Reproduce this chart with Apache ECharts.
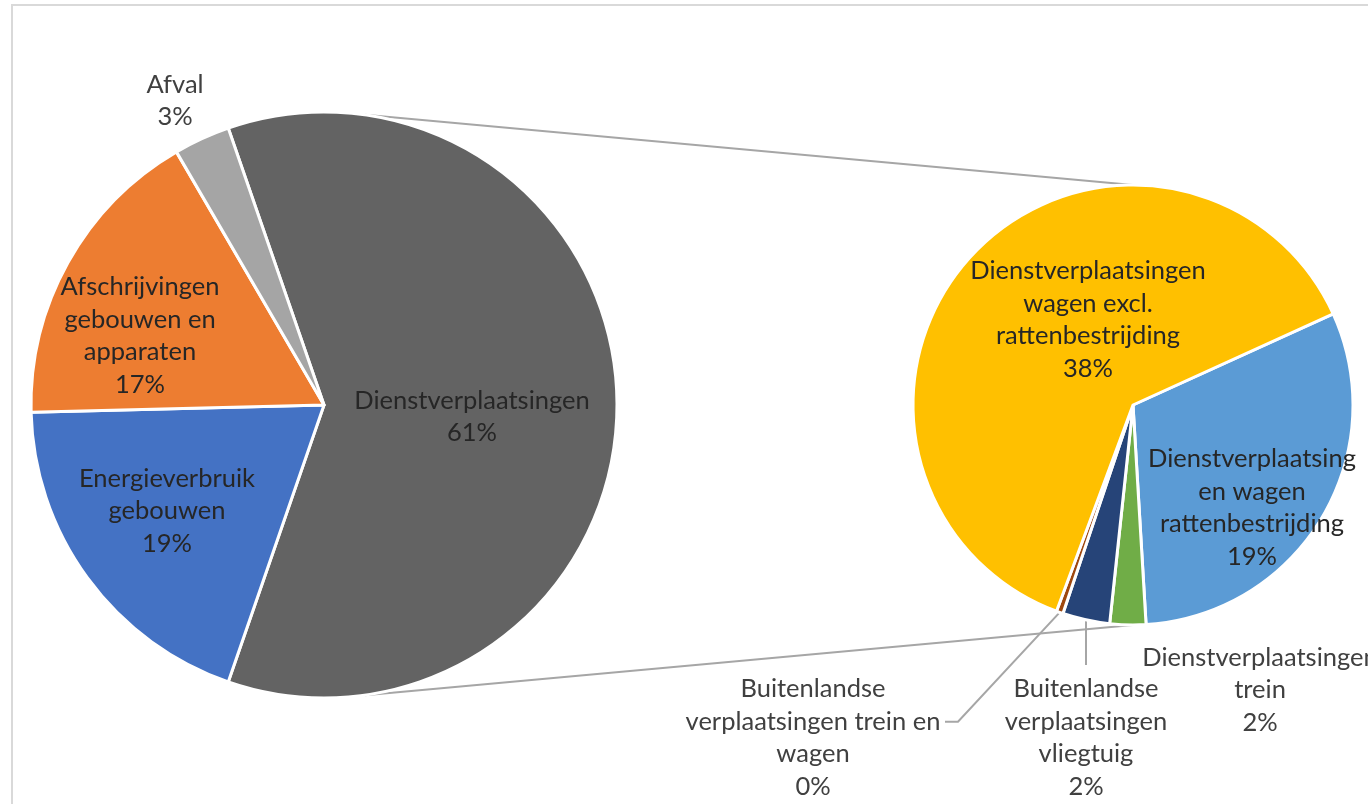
<!DOCTYPE html>
<html>
<head>
<meta charset="utf-8">
<script src="https://cdn.jsdelivr.net/npm/echarts@6/dist/echarts.min.js"></script>
<style>
html,body{margin:0;padding:0;background:#fff;}
#chart{width:1368px;height:804px;}
</style>
</head>
<body>
<div id="chart"></div>
<script>
// ---- data ----
const leftNames = ['Dienstverplaatsingen', 'Energieverbruik gebouwen', 'Afschrijvingen gebouwen en apparaten', 'Afval'];
const leftLabelText = ['Dienstverplaatsingen', 'Energieverbruik\ngebouwen', 'Afschrijvingen\ngebouwen en\napparaten', 'Afval'];
const leftValues = [60.6, 19.3, 17.0, 3.1];

const rightNames = ['Dienstverplaatsingen wagen rattenbestrijding', 'Dienstverplaatsingen trein', 'Buitenlandse verplaatsingen vliegtuig', 'Buitenlandse verplaatsingen trein en wagen', 'Dienstverplaatsingen wagen excl. rattenbestrijding'];
const rightLabelText = ['Dienstverplaatsing\nen wagen\nrattenbestrijding', 'Dienstverplaatsingen\ntrein', 'Buitenlandse\nverplaatsingen\nvliegtuig', 'Buitenlandse\nverplaatsingen trein en\nwagen', 'Dienstverplaatsingen\nwagen excl.\nrattenbestrijding'];
const rightValues = [18.7, 1.6, 2.1, 0.3, 37.9];

// ---- layout / style ----
const leftColors = ['#636363', '#4472C4', '#ED7D31', '#A5A5A5'];
const rightColors = ['#5B9BD5', '#70AD47', '#264478', '#9E480E', '#FFC000'];
const L = {cx: 324, cy: 405, r: 293};
const R = {cx: 1133, cy: 405, r: 220};
const leftLabelOffset = [[148, 12], [-157, 106], [-184, -69], [-149, -304]];
const rightLabelOffset = [[119, 103], [127, 285], [-47, 333], [-320, 333], [-45, -85]];
const rightStart = 24.5;
const FONT = 'Lato, "Noto Sans", sans-serif';
const FS = 25.5, LH = 32.5;

const leftTotal = leftValues.reduce((a, b) => a + b, 0);
const leftStart = leftValues[0] / leftTotal * 360 / 2;
const rightTotal = rightValues.reduce((a, b) => a + b, 0);

function midAngle(values, total, start, i) {
  let a = start;
  for (let k = 0; k < i; k++) a -= values[k] / total * 360;
  a -= values[i] / total * 360 / 2;
  return a * Math.PI / 180;
}
function edgePoint(P, ang, extra) {
  const rr = P.r + (extra || 0);
  return [P.cx + rr * Math.cos(ang), P.cy - rr * Math.sin(ang)];
}

const chart = echarts.init(document.getElementById('chart'), null, {renderer: 'canvas'});

const leftData = leftNames.map((n, i) => ({
  name: n, value: leftValues[i],
  itemStyle: {color: leftColors[i]},
  label: {position: i === 3 ? 'outside' : 'inside', color: i === 3 ? '#404040' : '#262626'},
  labelLine: {show: false}
}));
const rightData = rightNames.map((n, i) => ({
  name: n, value: rightValues[i],
  itemStyle: {color: rightColors[i]},
  label: {position: (i === 0 || i === 4) ? 'inside' : 'outside', color: (i === 0 || i === 4) ? '#262626' : '#404040'},
  labelLine: {show: i === 2 || i === 3, lineStyle: {color: '#A6A6A6', width: 2}, length: 10, length2: 10}
}));

// connector lines between the two pies
const topAng = 82 * Math.PI / 180;
const c1 = edgePoint(L, topAng);
const c2 = [L.cx + L.r * Math.cos(topAng), L.cy + L.r * Math.sin(topAng)];

const option = {
  backgroundColor: '#ffffff',
  animation: false,
  graphic: [
    {type: 'rect', z: 0, shape: {x: 12, y: 5, width: 1400, height: 900}, style: {fill: 'none', stroke: '#D9D9D9', lineWidth: 2}},
    {type: 'line', z: 0, shape: {x1: c1[0], y1: c1[1], x2: R.cx, y2: R.cy - R.r}, style: {stroke: '#A6A6A6', lineWidth: 2}},
    {type: 'line', z: 0, shape: {x1: c2[0], y1: c2[1], x2: R.cx, y2: R.cy + R.r}, style: {stroke: '#A6A6A6', lineWidth: 2}}
  ],
  series: [
    {
      type: 'pie',
      center: [L.cx, L.cy],
      radius: [0, L.r],
      startAngle: leftStart,
      clockwise: true,
      avoidLabelOverlap: false,
      itemStyle: {borderColor: '#ffffff', borderWidth: 3},
      label: {
        show: true, fontFamily: FONT, fontSize: FS, lineHeight: LH, align: 'center',
        formatter: p => leftLabelText[p.dataIndex] + '\n' + Math.round(p.value) + '%'
      },
      labelLayout: p => ({
        x: L.cx + leftLabelOffset[p.dataIndex][0],
        y: L.cy + leftLabelOffset[p.dataIndex][1],
        align: 'center', verticalAlign: 'middle'
      }),
      emphasis: {disabled: true},
      data: leftData
    },
    {
      type: 'pie',
      center: [R.cx, R.cy],
      radius: [0, R.r],
      startAngle: rightStart,
      clockwise: true,
      avoidLabelOverlap: false,
      itemStyle: {borderColor: '#ffffff', borderWidth: 3},
      label: {
        show: true, fontFamily: FONT, fontSize: FS, lineHeight: LH, align: 'center',
        formatter: p => rightLabelText[p.dataIndex] + '\n' + Math.round(p.value) + '%'
      },
      labelLayout: p => {
        const i = p.dataIndex;
        const lx = R.cx + rightLabelOffset[i][0];
        const ly = R.cy + rightLabelOffset[i][1];
        const res = {x: lx, y: ly, align: 'center', verticalAlign: 'middle'};
        const ang = midAngle(rightValues, rightTotal, rightStart, i);
        const s = edgePoint(R, ang);
        if (i === 2) {
          const top = ly - 73;
          res.labelLinePoints = [s, [s[0], (s[1] + top) / 2], [s[0], top]];
        } else if (i === 3) {
          const ey = ly - LH / 2;
          const ex = lx + 132;
          res.labelLinePoints = [s, [ex + 13, ey], [ex, ey]];
        }
        return res;
      },
      emphasis: {disabled: true},
      data: rightData
    }
  ]
};
chart.setOption(option);
</script>
</body>
</html>
